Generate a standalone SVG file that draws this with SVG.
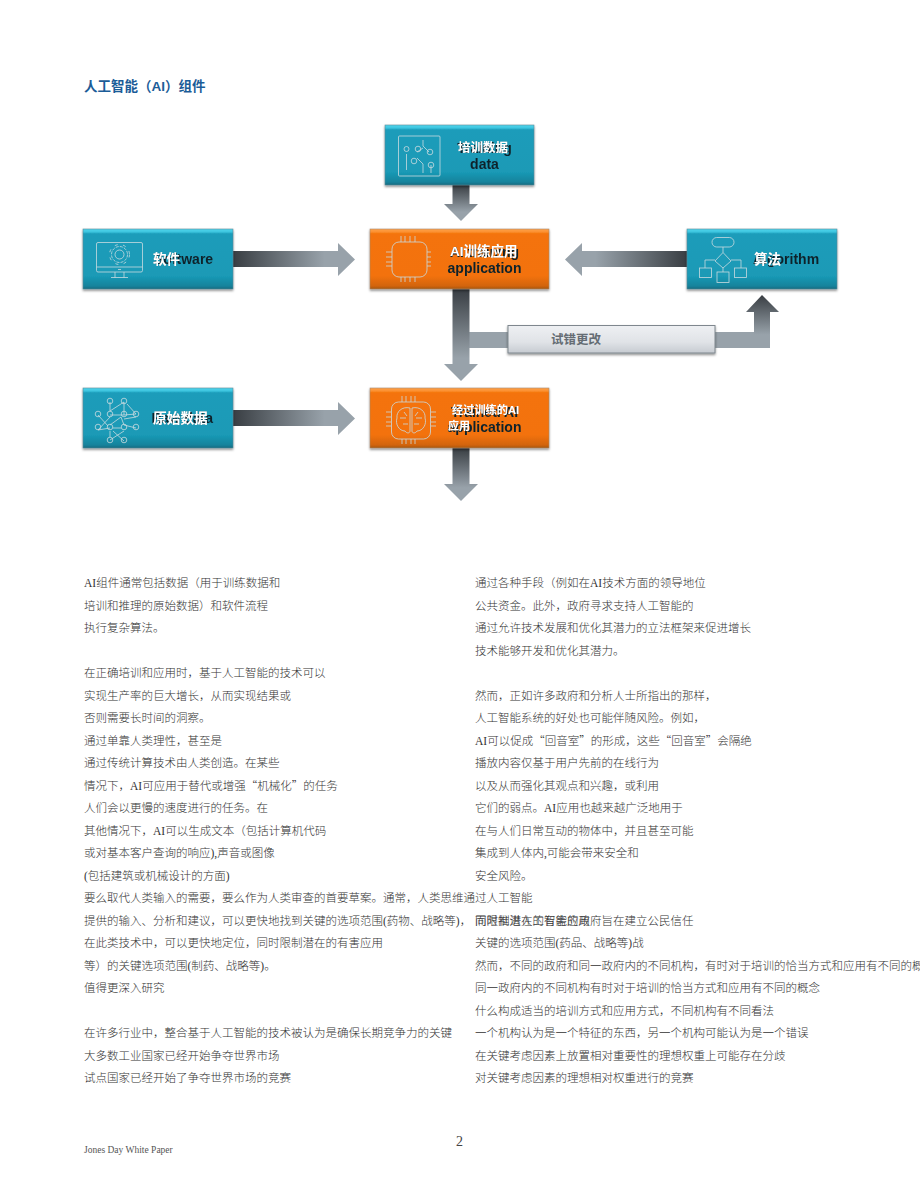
<svg xmlns="http://www.w3.org/2000/svg" width="920" height="1191" viewBox="0 0 920 1191">
<style>
text{white-space:pre}
.b{font-family:"Liberation Serif","Noto Sans CJK SC",sans-serif;font-size:11.5px;font-weight:300;fill:#333}
.en{font-family:"Liberation Sans",Arial,sans-serif;font-size:14px;font-weight:700;fill:#10242c}
.zh{font-family:"Liberation Sans","Noto Sans CJK SC",sans-serif;font-weight:700;fill:#fff;filter:url(#ts)}
.i{fill:none;stroke:#c9dadf;stroke-width:.8}
.c{fill:#98a2aa}
</style>
<defs>
<linearGradient id="teal" x1="0" y1="0" x2="0" y2="1">
<stop offset="0" stop-color="#4fd6ee"/><stop offset=".05" stop-color="#3cc4de"/><stop offset=".08" stop-color="#1a9cba"/><stop offset=".78" stop-color="#1a9ab6"/><stop offset=".95" stop-color="#14839c"/><stop offset="1" stop-color="#116a80"/>
</linearGradient>
<linearGradient id="org" x1="0" y1="0" x2="0" y2="1">
<stop offset="0" stop-color="#ffa24a"/><stop offset=".05" stop-color="#fb9030"/><stop offset=".08" stop-color="#f47308"/><stop offset=".78" stop-color="#f37208"/><stop offset=".95" stop-color="#d2640b"/><stop offset="1" stop-color="#a6560e"/>
</linearGradient>
<linearGradient id="gry" x1="0" y1="0" x2="0" y2="1">
<stop offset="0" stop-color="#eef0f3"/><stop offset=".6" stop-color="#e0e3e7"/><stop offset="1" stop-color="#c6cbd1"/>
</linearGradient>
<linearGradient id="dv" gradientUnits="objectBoundingBox" x1="0" y1="0" x2="0" y2="1">
<stop offset="0" stop-color="#393e43"/><stop offset=".75" stop-color="#98a2aa"/>
</linearGradient>
<linearGradient id="dh" x1="0" y1="0" x2="1" y2="0">
<stop offset="0" stop-color="#393e43"/><stop offset=".75" stop-color="#98a2aa"/>
</linearGradient>
<linearGradient id="dl" x1="1" y1="0" x2="0" y2="0">
<stop offset="0" stop-color="#393e43"/><stop offset=".75" stop-color="#98a2aa"/>
</linearGradient>
<filter id="sh" x="-10%" y="-20%" width="120%" height="140%"><feDropShadow dx="0" dy="1.500" stdDeviation="1.200" flood-color="#000" flood-opacity=".45"/></filter>
<filter id="ts" x="-20%" y="-30%" width="140%" height="160%"><feDropShadow dx="0" dy="0" stdDeviation=".7" flood-color="#000" flood-opacity=".75"/></filter>
<filter id="soft" x="-10%" y="-30%" width="120%" height="160%"><feGaussianBlur stdDeviation=".35"/></filter>
</defs>

<text id="title" x="84" y="91" font-family="'Liberation Sans','Noto Sans CJK SC',sans-serif" font-size="13.500" font-weight="700" fill="#1b5c98">人工智能（AI）组件</text>

<g id="connectors">
<path fill="url(#dv)" d="M452.500 185H469.500V204H478L461 221L444 204H452.500Z"/>
<path fill="url(#dh)" d="M233 251H338V243L355 259.500L338 276V267H233Z"/>
<path fill="url(#dh)" d="M233 410H338V402L355 418.500L338 435V426H233Z"/>
<path fill="url(#dl)" d="M687 251H582V243L565 259.500L582 276V267H687Z"/>
<rect class="c" x="469" y="332" width="40" height="16"/>
<path fill="url(#dv)" d="M452.500 289H469.500V364H478L461 381L444 364H452.500Z"/>
<path fill="url(#dv)" d="M452.500 448H469.500V484H478L461 501L444 484H452.500Z"/>
<rect class="c" x="714" y="332" width="41" height="16"/>
<path fill="url(#dv)" d="M754 348V312H746L762 295L779 312H770V348Z"/>
</g>

<g id="node-training-data">
<rect x="385" y="125" width="149" height="60" fill="url(#teal)" stroke="#5f8b97" stroke-width=".6" filter="url(#sh)"/>
<rect class="i" x="398.500" y="136" width="41.500" height="40" rx="1"/>
<path class="i" d="M406.500 154V170M423 140V146L429 152M417 158L423 164V173M431 165V173M417 152L423 148"/>
<circle class="i" cx="406.500" cy="149" r="2.500"/><circle class="i" cx="418" cy="149" r="2.800"/><circle class="i" cx="430" cy="152" r="2.800"/><circle class="i" cx="414" cy="161" r="2.800"/><circle class="i" cx="431" cy="165" r="2.800"/>
<text class="en" x="484.500" y="153" text-anchor="middle" filter="url(#soft)">Training</text>
<text class="en" x="484.500" y="169" text-anchor="middle" filter="url(#soft)">data</text>
<text class="zh" x="458" y="152" font-size="12.500">培训数据</text>
</g>

<g id="node-ai-training">
<rect x="370" y="229" width="179" height="60" fill="url(#org)" stroke="#a98a70" stroke-width=".6" filter="url(#sh)"/>
<rect class="i" x="392" y="242" width="35" height="35" rx="7" stroke="#f4d9c0"/>
<path class="i" d="M401 236V242M405 236V242M410 236V242M415 236V242M401 277V282M405 277V282M410 277V282M415 277V282M386 252H392M386 257H392M386 262H392M386 266H392M427 252H431M427 257H431M427 262H431M427 266H431"/>
<text class="en" x="484.500" y="257" text-anchor="middle" filter="url(#soft)">AI training</text>
<text class="en" x="484.500" y="273" text-anchor="middle" filter="url(#soft)">application</text>
<text class="zh" x="450" y="256" font-size="13.500">AI训练应用</text>
</g>

<g id="node-software">
<rect x="83" y="229" width="150" height="60" fill="url(#teal)" stroke="#5f8b97" stroke-width=".6" filter="url(#sh)"/>
<rect class="i" x="96.500" y="242.500" width="46" height="29.500" rx="1.500"/>
<path class="i" d="M96.500 267H142.500M115 272V277.500M124 272V277.500M111 277.500H128M118 269.500H121"/>
<circle class="i" cx="119.500" cy="254.500" r="4.500"/>
<circle class="i" cx="119.500" cy="254.500" r="8" stroke-dasharray="3 1.200"/>
<circle class="i" cx="119.500" cy="254.500" r="10" stroke-dasharray="3 5.400"/>
<text class="en" x="154" y="264" filter="url(#soft)">Software</text>
<text class="zh" x="153" y="264" font-size="13.500">软件</text>
</g>

<g id="node-algorithm">
<rect x="687" y="229" width="150" height="60" fill="url(#teal)" stroke="#5f8b97" stroke-width=".6" filter="url(#sh)"/>
<rect class="i" x="712" y="237.500" width="22" height="9.500" rx="4.700"/>
<path class="i" d="M723 247V252.500L731 261L723 268L715 261L723 252.500M723 268V272M715 260H705V268M731 260H741V268"/>
<rect class="i" x="699.500" y="268" width="12" height="9.500"/>
<rect class="i" x="717" y="272" width="12" height="10.500"/>
<rect class="i" x="734.500" y="268" width="12" height="9.500"/>
<text class="en" x="753" y="264" filter="url(#soft)">Algorithm</text>
<text class="zh" x="754" y="264" font-size="13.500">算法</text>
</g>

<g id="node-raw-data">
<rect x="83" y="388" width="150" height="60" fill="url(#teal)" stroke="#5f8b97" stroke-width=".6" filter="url(#sh)"/>
<path class="i" d="M110 402L110 411L124 402L124 415M110 415L124 415L136 414M127 404L136 414M110 417L98 430L110 428M98 415L108 426M121 417L110 425M121 417L124 425L136 428M124 419L136 417M110 431L110 437M113 431L124 441M124 431L110 440M113 428H121"/>
<circle class="i" cx="110" cy="401" r="2.800"/><circle class="i" cx="124" cy="401" r="2.800"/><circle class="i" cx="98" cy="414" r="2.800"/><circle class="i" cx="110" cy="414" r="2.800"/><circle class="i" cx="124" cy="414" r="2.800"/><circle class="i" cx="136" cy="414" r="2.800"/><circle class="i" cx="98" cy="427" r="2.800"/><circle class="i" cx="110" cy="427" r="2.800"/><circle class="i" cx="124" cy="427" r="2.800"/><circle class="i" cx="136" cy="427" r="2.800"/><circle class="i" cx="110" cy="440" r="2.800"/><circle class="i" cx="124" cy="440" r="2.800"/>
<text class="en" x="151.500" y="423" filter="url(#soft)">Raw data</text>
<text class="zh" x="153" y="423" font-size="13.700">原始数据</text>
</g>

<g id="node-trained-ai">
<rect x="370" y="388" width="179" height="60" fill="url(#org)" stroke="#a98a70" stroke-width=".6" filter="url(#sh)"/>
<rect class="i" x="391.500" y="402" width="39" height="37" rx="7"/>
<path class="i" d="M402 396V402M406 396V402M411 396V402M415 396V402M402 439V444M406 439V444M411 439V444M415 439V444M386 412H391M386 417H391M386 422H391M386 426H391M431 412H436M431 417H436M431 422H436M431 426H436"/>
<path class="i" d="M410 408C402 406 396 412 397 418C395 424 399 431 405 431C407 434 410 433 410 431V408ZM412 408C420 406 426 412 425 418C427 424 423 431 417 431C415 434 412 433 412 431V408ZM400 418H406M403 424H408M416 418H422M414 424H419M404 412L407 416M418 412L415 416"/>
<text class="en" x="484.500" y="417" text-anchor="middle" filter="url(#soft)">Trained AI</text>
<text class="en" x="484.500" y="432" text-anchor="middle" filter="url(#soft)">application</text>
<text class="zh" x="452" y="414" font-size="11.200">经过训练的AI</text>
<text class="zh" x="448" y="430" font-size="11">应用</text>
</g>

<g id="node-trial-error">
<rect x="508" y="325.500" width="207" height="27.500" fill="url(#gry)" stroke="#7f878e" stroke-width="1" filter="url(#sh)"/>
<text x="551" y="344" font-family="'Liberation Sans','Noto Sans CJK SC',sans-serif" font-size="12.500" font-weight="700" fill="#656d74">试错更改</text>
</g>

<g id="body-left">
<text class="b" x="84" y="587">AI组件通常包括数据（用于训练数据和</text>
<text class="b" x="84" y="609.500">培训和推理的原始数据）和软件流程</text>
<text class="b" x="84" y="632">执行复杂算法。</text>
<text class="b" x="84" y="677">在正确培训和应用时，基于人工智能的技术可以</text>
<text class="b" x="84" y="699.500">实现生产率的巨大增长，从而实现结果或</text>
<text class="b" x="84" y="722">否则需要长时间的洞察。</text>
<text class="b" x="84" y="744.500">通过单靠人类理性，甚至是</text>
<text class="b" x="84" y="767">通过传统计算技术由人类创造。在某些</text>
<text class="b" x="84" y="789.500">情况下，AI可应用于替代或增强<tspan font-family="'Noto Sans CJK SC',sans-serif">“机械化”</tspan>的任务</text>
<text class="b" x="84" y="812">人们会以更慢的速度进行的任务。在</text>
<text class="b" x="84" y="834.500">其他情况下，AI可以生成文本（包括计算机代码</text>
<text class="b" x="84" y="857">或对基本客户查询的响应),声音或图像</text>
<text class="b" x="84" y="879.500">(包括建筑或机械设计的方面)</text>
<text class="b" x="84" y="902">要么取代人类输入的需要，要么作为人类审查的首要草案。通常，人类思维通过人工智能</text>
<text class="b" x="84" y="924.500">提供的输入、分析和建议，可以更快地找到关键的选项范围(药物、战略等)，</text>
<text class="b" x="84" y="947">在此类技术中，可以更快地定位，同时限制潜在的有害应用</text>
<text class="b" x="84" y="969.500">等）的关键选项范围(制药、战略等)。</text>
<text class="b" x="84" y="992">值得更深入研究</text>
<text class="b" x="84" y="1037">在许多行业中，整合基于人工智能的技术被认为是确保长期竞争力的关键</text>
<text class="b" x="84" y="1059.500">大多数工业国家已经开始争夺世界市场</text>
<text class="b" x="84" y="1082">试点国家已经开始了争夺世界市场的竞赛</text>
</g>

<g id="body-right">
<text class="b" x="475" y="587">通过各种手段（例如在AI技术方面的领导地位</text>
<text class="b" x="475" y="609.500">公共资金。此外，政府寻求支持人工智能的</text>
<text class="b" x="475" y="632">通过允许技术发展和优化其潜力的立法框架来促进增长</text>
<text class="b" x="475" y="654.500">技术能够开发和优化其潜力。</text>
<text class="b" x="475" y="699.500">然而，正如许多政府和分析人士所指出的那样，</text>
<text class="b" x="475" y="722">人工智能系统的好处也可能伴随风险。例如，</text>
<text class="b" x="475" y="744.500">AI可以促成<tspan font-family="'Noto Sans CJK SC',sans-serif">“回音室”</tspan>的形成，这些<tspan font-family="'Noto Sans CJK SC',sans-serif">“回音室”</tspan>会隔绝</text>
<text class="b" x="475" y="767">播放内容仅基于用户先前的在线行为</text>
<text class="b" x="475" y="789.500">以及从而强化其观点和兴趣，或利用</text>
<text class="b" x="475" y="812">它们的弱点。AI应用也越来越广泛地用于</text>
<text class="b" x="475" y="834.500">在与人们日常互动的物体中，并且甚至可能</text>
<text class="b" x="475" y="857">集成到人体内,可能会带来安全和</text>
<text class="b" x="475" y="879.500">安全风险。</text>
<text class="b" x="475" y="924.500">而限制潜在的有害应用</text>
<text class="b" x="475" y="924.500">同时推进人工智能的政府旨在建立公民信任</text>
<text class="b" x="475" y="947">关键的选项范围(药品、战略等)战</text>
<text class="b" x="475" y="969.500">然而，不同的政府和同一政府内的不同机构，有时对于培训的恰当方式和应用有不同的概念</text>
<text class="b" x="475" y="992">同一政府内的不同机构有时对于培训的恰当方式和应用有不同的概念</text>
<text class="b" x="475" y="1014.500">什么构成适当的培训方式和应用方式，不同机构有不同看法</text>
<text class="b" x="475" y="1037">一个机构认为是一个特征的东西，另一个机构可能认为是一个错误</text>
<text class="b" x="475" y="1059.500">在关键考虑因素上放置相对重要性的理想权重上可能存在分歧</text>
<text class="b" x="475" y="1082">对关键考虑因素的理想相对权重进行的竞赛</text>
</g>

<g id="footer">
<text x="84" y="1153" font-family="'Liberation Serif',serif" font-size="9.500" fill="#555">Jones Day White Paper</text>
<text x="456" y="1146" font-family="'Liberation Serif',serif" font-size="14" fill="#444">2</text>
</g>
</svg>
